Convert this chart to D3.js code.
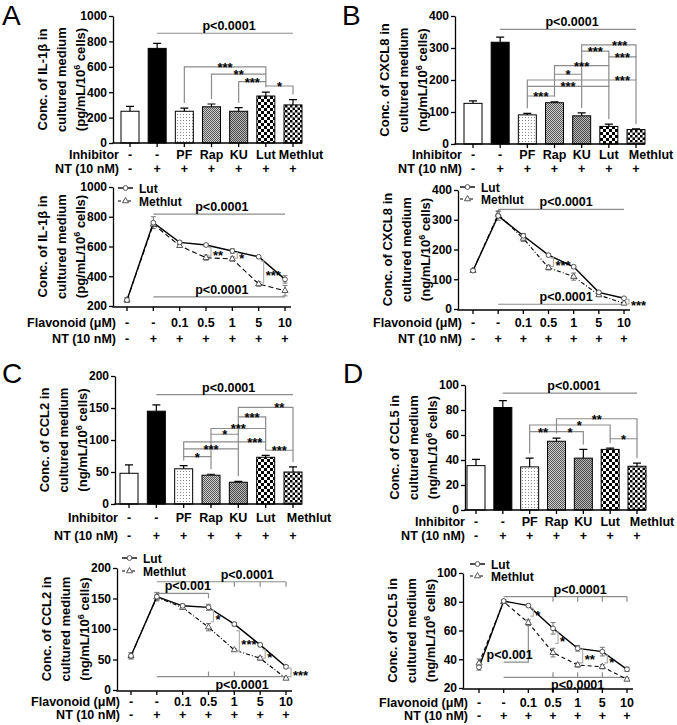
<!DOCTYPE html>
<html><head><meta charset="utf-8">
<script src="https://cdn.jsdelivr.net/npm/d3@7"></script>
<style>
body{margin:0;background:#fff}
svg{display:block}
text{font-family:"Liberation Sans",Arial,sans-serif;font-weight:bold;fill:#000}
</style>
</head><body>
<svg id="c" width="677" height="725"></svg>
<script>
// ---------------- DATA ----------------
const inhibitors = ["-", "-", "PF", "Rap", "KU", "Lut", "Methlut"];
const ntRow = ["-", "+", "+", "+", "+", "+", "+"];
const flavonoidDoses = ["-", "-", "0.1", "0.5", "1", "5", "10"];
const seriesNames = ["Lut", "Methlut"];

// bar charts (mean, SEM)
const il1bBar = [250, 745, 250, 285, 250, 370, 300];
const il1bBarErr = [38, 40, 25, 22, 28, 30, 42];
const cxcl8Bar = [127, 318, 91, 129, 88, 55, 45];
const cxcl8BarErr = [8, 16, 5, 3, 9, 7, 2];
const ccl2Bar = [48, 145, 55, 45, 34, 73, 50];
const ccl2BarErr = [13, 10, 5, 1.5, 1.5, 3, 8];
const ccl5Bar = [35.5, 82, 34.5, 55, 41.5, 48.5, 35];
const ccl5BarErr = [5, 5.5, 7, 2.5, 7, 1, 2.5];

// dose-response line charts
const il1bLut = [240, 760, 628, 610, 570, 531, 379];
const il1bLutErr = [15, 40, 10, 8, 15, 8, 25];
const il1bMeth = [240, 750, 605, 525, 516, 348, 303];
const il1bMethErr = [15, 15, 12, 18, 15, 15, 35];
const cxcl8Lut = [129, 313, 246, 181, 142, 56, 36];
const cxcl8LutErr = [5, 15, 8, 5, 5, 5, 4];
const cxcl8Meth = [129, 318, 237, 139, 109, 47, 19];
const cxcl8MethErr = [5, 12, 10, 8, 12, 5, 4];
const ccl2Lut = [56, 153, 138, 135.5, 108, 74, 38];
const ccl2LutErr = [5, 7, 3, 5, 3, 3, 2];
const ccl2Meth = [56, 152, 135, 103, 65.6, 52, 19];
const ccl2MethErr = [5, 5, 3, 6, 2, 3, 2];
const ccl5Lut = [34.4, 80.5, 77.3, 61.5, 47.6, 45.3, 33];
const ccl5LutErr = [2, 1, 1, 4, 2, 3, 1.5];
const ccl5Meth = [37.2, 80, 65.4, 44.6, 36, 34.8, 26];
const ccl5MethErr = [3, 1, 2, 3, 1.5, 1.5, 1];

// y-axis ticks
const il1bBarTicks = [0, 200, 400, 600, 800, 1000];
const cxcl8Ticks = [0, 100, 200, 300, 400];
const ccl2Ticks = [0, 50, 100, 150, 200];
const ccl5BarTicks = [0, 20, 40, 60, 80, 100];
const il1bLineTicks = [200, 400, 600, 800, 1000];
const ccl5LineTicks = [20, 40, 60, 80, 100];

// significance annotations: [fromIndex, toIndex, level, label, (labelAt index)]
const il1bBarP = [1, 6, 864, "p<0.0001"];
const il1bBarSig = [[2,5,600,"***"],[3,5,543,"**"],[4,5,483,"***"],[5,6,449,"*"]];
const cxcl8BarP = [1, 6, 358, "p<0.0001"];
const cxcl8BarSig = [[4,6,310,"***",5.4],[4,5,290,"***"],[5,6,272,"***"],[3,5,245,"***"],[3,4,218,"*"],[2,6,200,"***",5.5],[2,5,180,"***"],[2,3,150,"***"]];
const ccl2BarP = [1, 6, 171, "p<0.0001"];
const ccl2BarSig = [[4,6,151,"**",5.5],[4,5,136,"***"],[3,5,118,"***"],[3,4,109,"*"],[2,5,97,"***",4.6],[2,4,86,"***"],[5,6,84,"***"],[2,3,74,"*"]];
const ccl5BarP = [1, 6, 93.5, "p<0.0001"];
const ccl5BarSig = [[3,6,73,"**"],[2,5,68,"*",3.85],[2,3,62.7,"**"],[3,4,62.7,"*"],[5,6,57,"*"]];

// line-chart p lines: [from, to, level, label, labelAt(index), labelSide, tickIndices, tickDir]
const il1bLineP = [[1,6,818,"p<0.0001",3.6,"above",[],0],[1,6,262,"p<0.0001",3.6,"above",[],0]];
const cxcl8LineP = [[1,6,335,"p<0.0001",3.7,"above",[],0],[1,6,16,"p<0.0001",3.7,"above",[],0]];
const ccl2LineP = [[1,6,177.5,"p<0.0001",4.5,"above",[3,4,5,6],1],[1,3,158.5,"p<0.001",2.2,"above",[3],1],[1,6,22,"p<0.0001",4.3,"below",[3,4],-1]];
const ccl5LineP = [[1,6,83.5,"p<0.0001",4.1,"above",[3,4,5,6],1],[1,6,27.4,"p<0.0001",4.0,"below",[3,4,5],-1]];
const ccl5LineElbow = [1, 2, 38, 68.7, "p<0.001"];
// per-dose Lut vs Methlut brackets: [index, upper, lower, label]
const il1bLineSig = [[3,595,535,"**"],[4,560,522,"*"],[5,502,355,"***"]];
const cxcl8LineSig = [[3,172,143,"***"],[6,33,17,"***"]];
const ccl2LineSig = [[3,131,112,"*"],[4,97,63,"***"],[5,66,52,"*"],[6,36,22,"***"]];
const ccl5LineSig = [[2,75.5,70,"*"],[3,59,51,"*"],[4,47,37.5,"**"],[5,43,37.5,"*"]];

// ---------------- DRAWING ----------------
const svg = d3.select("#c");
const defs = svg.append("defs");
function makePattern(id, size, bg, fg, cells) {
  const p = defs.append("pattern").attr("id", id).attr("patternUnits", "userSpaceOnUse")
    .attr("width", size).attr("height", size);
  p.append("rect").attr("width", size).attr("height", size).attr("fill", bg);
  cells.forEach(c => p.append("rect").attr("x", c[0]).attr("y", c[1]).attr("width", c[2]).attr("height", c[3]).attr("fill", fg));
}
makePattern("pPF", 3, "#fff", "#8a8a8a", [[0,0,1,1]]);
makePattern("pRap", 2, "#d0d0d0", "#555", [[0,0,1,1],[1,1,1,1]]);
makePattern("pKU", 2, "#b8b8b8", "#4a4a4a", [[0,0,1,1],[1,1,1,1]]);
makePattern("pLut", 6, "#fff", "#000", [[0,0,3,3],[3,3,3,3]]);
makePattern("pMeth", 5, "#fff", "#000", [[0,0,2.5,2.5],[2.5,2.5,2.5,2.5]]);
const fills = ["#fff", "#000", "url(#pPF)", "url(#pRap)", "url(#pKU)", "url(#pLut)", "url(#pMeth)"];
const GRAY = "#8c8c8c";

function letter(t, x, y) {
  svg.append("text").attr("x", x).attr("y", y).text(t)
    .style("font-size", "28px").style("font-weight", "normal");
}

function idxX(x, v) {
  const f = Math.floor(v);
  return x(f) + (v - f) * (x(1) - x(0));
}

function yAxis(g, cfg, y, ticks) {
  const ax = g.append("g").attr("transform", `translate(${cfg.axisX},0)`)
    .call(d3.axisLeft(y).tickValues(ticks).tickFormat(d3.format("d")).tickSize(4).tickSizeOuter(0).tickPadding(2));
  ax.select(".domain").attr("stroke", "#000").attr("stroke-width", 1.3);
  ax.selectAll(".tick line").attr("stroke", "#000").attr("stroke-width", 1.3);
  ax.selectAll("text").style("font-size", "12px").style("font-family", '"Liberation Sans",Arial,sans-serif').style("font-weight", "bold");
  const cy = (cfg.yTop + cfg.yBot) / 2;
  const offs = [-66, -47, -28];
  cfg.title.forEach((t, i) => {
    const tx = g.append("text").attr("transform", `translate(${cfg.axisX + offs[i]},${cy}) rotate(-90)`)
      .attr("text-anchor", "middle").style("font-size", "13px");
    if (i === 2) {
      tx.append("tspan").text(t);
      tx.append("tspan").attr("dy", -5).style("font-size", "9px").text("6");
      tx.append("tspan").attr("dy", 5).text(" cells)");
    } else tx.text(t);
  });
}

function xAxisLine(g, cfg, x, yb, xEnd) {
  g.append("line").attr("x1", cfg.axisX - 0.6).attr("x2", xEnd).attr("y1", yb).attr("y2", yb)
    .attr("stroke", "#000").attr("stroke-width", 1.3);
  g.selectAll(null).data(d3.range(7)).join("line")
    .attr("x1", i => x(i)).attr("x2", i => x(i)).attr("y1", yb).attr("y2", yb + 4)
    .attr("stroke", "#000").attr("stroke-width", 1.3);
}

function rows(g, cfg, x, rowLabels, rowVals) {
  rowLabels.forEach((lab, r) => {
    const yy = cfg.rowY[r] + 4.5;
    g.append("text").attr("x", cfg.x0 - 11).attr("y", yy).attr("text-anchor", "end")
      .style("font-size", "12.5px").text(lab);
    g.selectAll(null).data(rowVals[r]).join("text")
      .attr("x", (d, i) => x(i) + (r === 0 && i === 6 && cfg.lastDx ? cfg.lastDx : 0)).attr("y", yy).attr("text-anchor", "middle")
      .style("font-size", "12.5px").text(d => d);
  });
}

function barPanel(cfg) {
  const g = svg.append("g");
  const y = d3.scaleLinear().domain(cfg.domain).range([cfg.yBot, cfg.yTop]);
  const x = d3.scalePoint().domain(d3.range(7)).range([cfg.x0, cfg.x1]);
  const bw = 18;
  letter(cfg.letter, cfg.lx, cfg.ly);
  g.selectAll(null).data(cfg.values).join("rect")
    .attr("x", (d, i) => x(i) - bw / 2).attr("y", d => y(d))
    .attr("width", bw).attr("height", d => y(cfg.domain[0]) - y(d))
    .attr("fill", (d, i) => fills[i]).attr("stroke", "#000").attr("stroke-width", 1);
  g.selectAll(null).data(cfg.values).join("path")
    .attr("d", (d, i) => `M${x(i)},${y(d)}V${y(d + cfg.err[i])}M${x(i) - 4},${y(d + cfg.err[i])}H${x(i) + 4}`)
    .attr("stroke", "#000").attr("stroke-width", 1.2).attr("fill", "none");
  yAxis(g, cfg, y, cfg.ticks);
  xAxisLine(g, cfg, x, y(cfg.domain[0]), cfg.x1 + bw / 2);
  rows(g, cfg, x, ["Inhibitor", "NT (10 nM)"], [inhibitors, ntRow]);
  const p = cfg.pline;
  g.append("line").attr("x1", x(p[0])).attr("x2", x(p[1])).attr("y1", y(p[2])).attr("y2", y(p[2]))
    .attr("stroke", GRAY).attr("stroke-width", 1.2);
  g.append("text").attr("x", (x(p[0]) + x(p[1])) / 2 + 4).attr("y", y(p[2]) - 3).attr("text-anchor", "middle")
    .style("font-size", "12.5px").text(p[3]);
  const sig = cfg.sig;
  function legBottom(k, idx) {
    const v = sig[k][2];
    let best = null;
    sig.forEach((s, j) => {
      if (j !== k && (s[0] === idx || s[1] === idx) && s[2] < v && (best === null || s[2] > best)) best = s[2];
    });
    if (best !== null) return y(best);
    return Math.max(y(v), y(cfg.values[idx] + cfg.err[idx]) - 5);
  }
  sig.forEach((s, k) => {
    const yy = y(s[2]);
    const xa = x(s[0]), xb = x(s[1]);
    g.append("path").attr("d", `M${xa},${legBottom(k, s[0])}V${yy}H${xb}V${legBottom(k, s[1])}`)
      .attr("stroke", GRAY).attr("stroke-width", 1.2).attr("fill", "none");
    const lx = s.length > 4 ? idxX(x, s[4]) : (xa + xb) / 2;
    g.append("text").attr("x", lx).attr("y", yy + 5).attr("text-anchor", "middle")
      .style("font-size", "13px").text(s[3]);
  });
}

function linePanel(cfg) {
  const g = svg.append("g");
  const y = d3.scaleLinear().domain(cfg.domain).range([cfg.yBot, cfg.yTop]);
  const x = d3.scalePoint().domain(d3.range(7)).range([cfg.x0, cfg.x1]);
  yAxis(g, cfg, y, cfg.ticks);
  xAxisLine(g, cfg, x, y(cfg.domain[0]) + 1, cfg.x1 + 6);
  rows(g, cfg, x, ["Flavonoid (\u03bcM)", "NT (10 nM)"], [flavonoidDoses, ntRow]);
  cfg.plines.forEach(p => {
    const yy = y(p[2]);
    g.append("line").attr("x1", x(p[0])).attr("x2", x(p[1])).attr("y1", yy).attr("y2", yy)
      .attr("stroke", GRAY).attr("stroke-width", 1.2);
    p[6].forEach(t => g.append("line").attr("x1", x(t)).attr("x2", x(t)).attr("y1", yy).attr("y2", yy + 5 * p[7])
      .attr("stroke", GRAY).attr("stroke-width", 1.2));
    g.append("text").attr("x", idxX(x, p[4])).attr("y", p[5] === "above" ? yy - 3 : yy + 12).attr("text-anchor", "middle")
      .style("font-size", "12.5px").text(p[3]);
  });
  if (cfg.elbow) {
    const e = cfg.elbow;
    g.append("path").attr("d", `M${x(e[0])},${y(e[2])}H${x(e[1])}V${y(e[3])}`)
      .attr("stroke", GRAY).attr("stroke-width", 1.2).attr("fill", "none");
    g.append("text").attr("x", x(e[0]) + 6).attr("y", y(e[2]) - 3).attr("text-anchor", "middle")
      .style("font-size", "12.5px").text(e[4]);
  }
  const drawErr = (vals, errs) => g.selectAll(null).data(vals).join("path")
    .attr("d", (d, i) => `M${x(i)},${y(d - errs[i])}V${y(d + errs[i])}M${x(i) - 2.5},${y(d - errs[i])}H${x(i) + 2.5}M${x(i) - 2.5},${y(d + errs[i])}H${x(i) + 2.5}`)
    .attr("stroke", "#777").attr("stroke-width", 1).attr("fill", "none");
  drawErr(cfg.lut, cfg.lutErr);
  drawErr(cfg.meth, cfg.methErr);
  const line = d3.line().x((d, i) => x(i)).y(d => y(d));
  g.append("path").attr("d", line(cfg.meth)).attr("fill", "none").attr("stroke", "#000")
    .attr("stroke-width", 1.1).attr("stroke-dasharray", cfg.dash);
  g.append("path").attr("d", line(cfg.lut)).attr("fill", "none").attr("stroke", "#000").attr("stroke-width", 1.4);
  const tri = d3.symbol(d3.symbolTriangle).size(16);
  g.selectAll(null).data(cfg.meth).join("path").attr("d", tri)
    .attr("transform", (d, i) => `translate(${x(i)},${y(d)})`)
    .attr("fill", "#fff").attr("stroke", "#555").attr("stroke-width", 1);
  g.selectAll(null).data(cfg.lut).join("circle").attr("cx", (d, i) => x(i)).attr("cy", d => y(d)).attr("r", 2.4)
    .attr("fill", "#fff").attr("stroke", "#555").attr("stroke-width", 1);
  cfg.sig.forEach(s => {
    const bx = x(s[0]) + 5;
    g.append("path").attr("d", `M${bx - 3},${y(s[1])}H${bx}V${y(s[2])}H${bx - 3}`)
      .attr("stroke", "#aaa").attr("stroke-width", 1.1).attr("fill", "none");
    g.append("text").attr("x", bx + 2).attr("y", (y(s[1]) + y(s[2])) / 2 + 8)
      .style("font-size", "13px").text(s[3]);
  });
  const L = cfg.legend;
  seriesNames.forEach((n, i) => {
    const ly = L[1] + i * L[2];
    g.append("line").attr("x1", L[0]).attr("x2", L[0] + 15).attr("y1", ly).attr("y2", ly)
      .attr("stroke", "#000").attr("stroke-width", i ? 1.1 : 1.4).attr("stroke-dasharray", i ? "3,2" : null);
    if (i) g.append("path").attr("d", tri).attr("transform", `translate(${L[0] + 7.5},${ly})`)
      .attr("fill", "#fff").attr("stroke", "#555");
    else g.append("circle").attr("cx", L[0] + 7.5).attr("cy", ly).attr("r", 2.4).attr("fill", "#fff").attr("stroke", "#555");
    g.append("text").attr("x", L[0] + 21).attr("y", ly + 4.5).style("font-size", "12px").text(n);
  });
}

const tIL = ["Conc. of IL-1\u03b2 in", "cultured medium", "(pg/mL/10"];
const tCX = ["Conc. of CXCL8 in", "cultured medium", "(ng/mL/10"];
const tC2 = ["Conc. of CCL2 in", "cultured medium", "(ng/mL/10"];
const tC5 = ["Conc. of CCL5 in", "cultured medium", "(ng/mL/10"];

barPanel({letter: "A", lx: 2, ly: 25, axisX: 113, x0: 130, x1: 293, yTop: 16, yBot: 143, domain: [0, 1000], lastDx: 8,
  ticks: il1bBarTicks, rowY: [154, 168], title: tIL, values: il1bBar, err: il1bBarErr, pline: il1bBarP, sig: il1bBarSig});
barPanel({letter: "B", lx: 342, ly: 25, axisX: 455, x0: 473, x1: 636, yTop: 16, yBot: 144, domain: [0, 400], lastDx: 15,
  ticks: cxcl8Ticks, rowY: [154.5, 168.5], title: tCX, values: cxcl8Bar, err: cxcl8BarErr, pline: cxcl8BarP, sig: cxcl8BarSig});
barPanel({letter: "C", lx: 2, ly: 383, axisX: 115, x0: 129, x1: 293, yTop: 376, yBot: 504, domain: [0, 200], lastDx: 16,
  ticks: ccl2Ticks, rowY: [517, 535], title: tC2, values: ccl2Bar, err: ccl2BarErr, pline: ccl2BarP, sig: ccl2BarSig});
barPanel({letter: "D", lx: 343, ly: 383, axisX: 465, x0: 476, x1: 637, yTop: 385, yBot: 510, domain: [0, 100], lastDx: 15,
  ticks: ccl5BarTicks, rowY: [521.5, 535], title: tC5, values: ccl5Bar, err: ccl5BarErr, pline: ccl5BarP, sig: ccl5BarSig});

linePanel({axisX: 113, x0: 127, x1: 285, yTop: 187, yBot: 306, domain: [200, 1000], ticks: il1bLineTicks,
  rowY: [322, 338], title: tIL, lut: il1bLut, lutErr: il1bLutErr, meth: il1bMeth, methErr: il1bMethErr,
  plines: il1bLineP, sig: il1bLineSig, dash: "5,3", legend: [118, 188, 13]});
linePanel({axisX: 458, x0: 473, x1: 624, yTop: 190, yBot: 309, domain: [0, 400], ticks: cxcl8Ticks,
  rowY: [322, 338], title: tCX, lut: cxcl8Lut, lutErr: cxcl8LutErr, meth: cxcl8Meth, methErr: cxcl8MethErr,
  plines: cxcl8LineP, sig: cxcl8LineSig, dash: "4,2,1,2", legend: [460, 187, 12]});
linePanel({axisX: 117, x0: 131, x1: 286, yTop: 568, yBot: 690, domain: [0, 200], ticks: ccl2Ticks,
  rowY: [701, 714], title: tC2, lut: ccl2Lut, lutErr: ccl2LutErr, meth: ccl2Meth, methErr: ccl2MethErr,
  plines: ccl2LineP, sig: ccl2LineSig, dash: "4,2,1,2", legend: [122, 558, 13]});
linePanel({axisX: 463, x0: 479, x1: 627, yTop: 573, yBot: 688, domain: [20, 100], ticks: ccl5LineTicks,
  rowY: [702, 715], title: tC5, lut: ccl5Lut, lutErr: ccl5LutErr, meth: ccl5Meth, methErr: ccl5MethErr,
  plines: ccl5LineP, elbow: ccl5LineElbow, sig: ccl5LineSig, dash: "4,3", legend: [470, 564, 12]});
</script>
</body></html>
